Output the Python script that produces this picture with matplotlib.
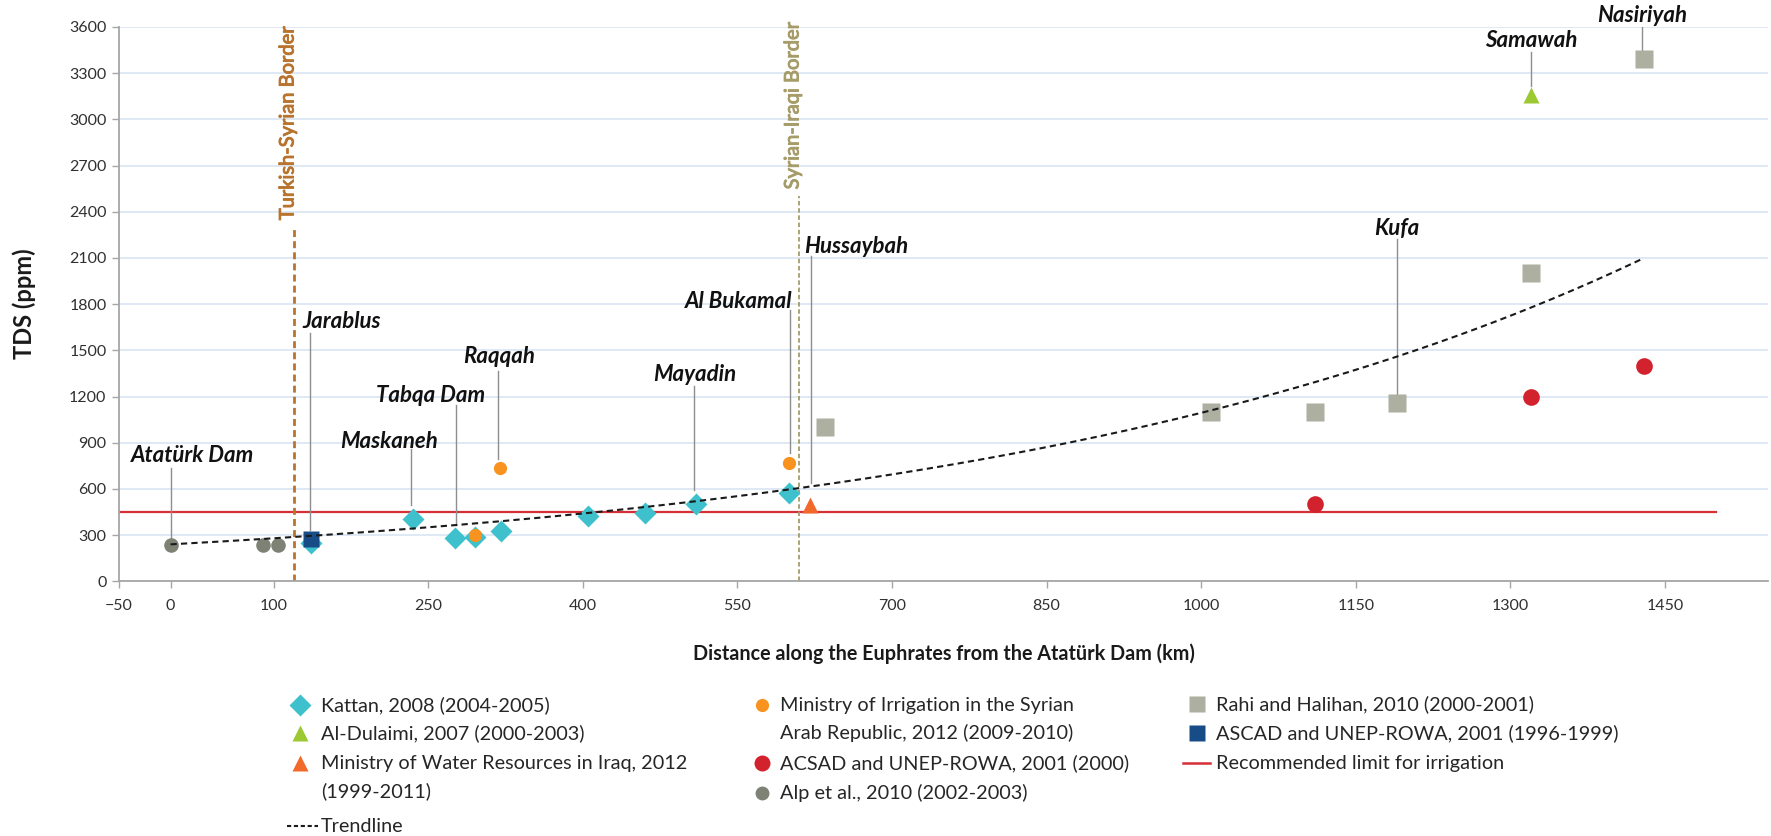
import numpy as np
import matplotlib
matplotlib.use("Agg")
import matplotlib.pyplot as plt
from matplotlib.lines import Line2D
import matplotlib.patheffects as pe

plt.rcParams['font.family'] = ['Lato', 'DejaVu Sans']

# ---------------- data ----------------
kattan_x = [136, 235, 276, 295, 321, 405, 460, 510, 600]
kattan_y = [250, 405, 280, 285, 325, 425, 445, 505, 575]

dulaimi_x = [1320]
dulaimi_y = [3160]

mwr_iraq_x = [620]
mwr_iraq_y = [495]

mir_syria_x = [295, 320, 600]
mir_syria_y = [300, 735, 770]

acsad_x = [1110, 1320, 1430]
acsad_y = [500, 1200, 1400]

alp_x = [0, 90, 104]
alp_y = [233, 233, 233]

rahi_x = [635, 1010, 1110, 1190, 1320, 1430]
rahi_y = [1000, 1100, 1100, 1155, 2005, 3395]

ascad_x = [136]
ascad_y = [275]

limit_value = 450
limit_x = [-50, 1500]

# exponential trendline: y = A * exp(B * x)
trend_A = 240.0
trend_B = 0.001517
trend_range = [0, 1428]

borders = [("Turkish-Syrian Border", 120, 2300), ("Syrian-Iraqi Border", 610, 2500)]

# place labels: (name, label_x, label_y, leader_x, leader_top, leader_bottom)
places = [
    ("Atatürk Dam", 21, 820, 0, 738, 279),
    ("Jarablus", 166, 1687, 135.5, 1612, 333),
    ("Maskaneh", 212, 908, 233, 858, 497),
    ("Tabqa Dam", 252, 1204, 277, 1145, 367),
    ("Raqqah", 319, 1459, 318, 1366, 793),
    ("Mayadin", 509, 1340, 508, 1268, 594),
    ("Al Bukamal", 551, 1815, 601, 1765, 832),
    ("Hussaybah", 665, 2173, 621, 2111, 638),
    ("Kufa", 1190, 2289, 1190, 2220, 1202),
    ("Samawah", 1320, 3511, 1320, 3437, 3220),
    ("Nasiriyah", 1428, 3672, 1428, 3618, 3449),
]

x_ticks = [-50, 0, 100, 250, 400, 550, 700, 850, 1000, 1150, 1300, 1450]
y_ticks = list(range(0, 3601, 300))

# ---------------- style ----------------
C_KATTAN = "#3FC1CD"
C_DULAIMI = "#9CC931"
C_MWR = "#F26A2B"
C_MIR = "#F7931E"
C_ACSAD = "#D2222D"
C_ALP = "#7E8275"
C_RAHI = "#ADB0A1"
C_ASCAD = "#184C87"
C_LIMIT = "#D62F37"
C_TS = "#B8742E"
C_SI = "#A59C69"
C_LEAD = "#8E8E8E"
C_GRID = "#D6E2F3"

W, H = 1771, 836
fig = plt.figure(figsize=(W / 100, H / 100), dpi=100)
ax = fig.add_axes([119 / W, 1 - 581.3 / H, (1768 - 119) / W, (581.3 - 27) / H])

ax.set_xlim(-50, 1550)
ax.set_ylim(0, 3600)
ax.set_xticks(x_ticks)
ax.set_yticks(y_ticks)
ax.tick_params(axis='both', direction='out', length=5, width=1, color="#A6A6A6",
               labelsize=11.5, labelcolor="#303030", pad=4)
ax.tick_params(axis='x', pad=8)
for s in ["top", "right"]:
    ax.spines[s].set_visible(False)
for s in ["left", "bottom"]:
    ax.spines[s].set_color("#A6A6A6")
    ax.spines[s].set_linewidth(1.3)
ax.yaxis.grid(True, color=C_GRID, lw=1.1, zorder=0)
ax.set_axisbelow(True)

ax.set_ylabel("TDS (ppm)", fontsize=17, fontweight='bold', color="#1A1A1A", labelpad=24)
ax.set_xlabel("Distance along the Euphrates from the Atatürk Dam (km)", fontsize=14.2,
              fontweight='bold', color="#1A1A1A", labelpad=22)

# limit line
ax.plot(limit_x, [limit_value, limit_value], color=C_LIMIT, lw=1.6, zorder=2)

# borders
for i, (name, bx, btop) in enumerate(borders):
    col = C_TS if i == 0 else C_SI
    lw = 2.0 if i == 0 else 1.3
    ax.plot([bx, bx], [0, btop], color=col, lw=lw, ls=(0, (2.5, 1.5)), zorder=2)
    ax.text(bx - 6, btop + 45, name, rotation=90, ha='center', va='bottom',
            color=col, fontsize=14.5, clip_on=False,
            path_effects=[pe.withStroke(linewidth=0.7, foreground=col)])

# leader lines and labels
for name, lx, ly, px, ptop, pbot in places:
    ax.plot([px, px], [pbot, ptop], color=C_LEAD, lw=1.0, zorder=2)
    ax.text(lx, ly, name, ha='center', va='center', fontsize=16, fontweight='bold',
            fontstyle='italic', color="#111111", clip_on=False)

# markers
ax.plot(kattan_x, kattan_y, ls='none', marker='D', ms=11.5, color=C_KATTAN, mec='none', zorder=3)
ax.plot(mir_syria_x, mir_syria_y, ls='none', marker='o', ms=9.5, color=C_MIR, mec='none', zorder=4)
ax.plot(dulaimi_x, dulaimi_y, ls='none', marker='^', ms=12, color=C_DULAIMI, mec='none', zorder=4)
ax.plot(mwr_iraq_x, mwr_iraq_y, ls='none', marker='^', ms=12, color=C_MWR, mec='none', zorder=4)
ax.plot(acsad_x, acsad_y, ls='none', marker='o', ms=12, color=C_ACSAD, mec='none', zorder=4)
ax.plot(alp_x, alp_y, ls='none', marker='o', ms=10.5, color=C_ALP, mec='none', zorder=4)
ax.plot(rahi_x, rahi_y, ls='none', marker='s', ms=12.5, color=C_RAHI, mec='none', zorder=4)
ax.plot(ascad_x, ascad_y, ls='none', marker='s', ms=11, color=C_ASCAD, mec='none', zorder=4)

# trendline
tx = np.linspace(trend_range[0], trend_range[1], 300)
ax.plot(tx, trend_A * np.exp(trend_B * tx), color="#1A1A1A", lw=1.5, ls=(0, (3, 2)), zorder=5)

# ---------------- manual legend ----------------
def fx(px):
    return px / W

def fy(py):
    return 1 - py / H

LEG_FS = 14.3
LEG_COL = "#262626"

def leg_marker(px, py, marker, color, ms):
    fig.add_artist(Line2D([fx(px)], [fy(py)], marker=marker, ms=ms, color=color,
                          mec='none', ls='none', transform=fig.transFigure))

def leg_line(x0, x1, py, color, lw, ls):
    fig.add_artist(Line2D([fx(x0), fx(x1)], [fy(py), fy(py)], color=color, lw=lw, ls=ls,
                          transform=fig.transFigure))

def leg_text(px, py, s):
    fig.text(fx(px), fy(py), s, ha='left', va='center', fontsize=LEG_FS, color=LEG_COL)

# column 1
leg_marker(300, 705, 'D', C_KATTAN, 11.5)
leg_text(321, 705, "Kattan, 2008 (2004-2005)")
leg_marker(300, 733, '^', C_DULAIMI, 12)
leg_text(321, 733, "Al-Dulaimi, 2007 (2000-2003)")
leg_marker(300, 763, '^', C_MWR, 12)
leg_text(321, 763, "Ministry of Water Resources in Iraq, 2012")
leg_text(321, 791, "(1999-2011)")
leg_line(287, 318, 826, "#1A1A1A", 1.5, (0, (2, 1.3)))
leg_text(321, 826, "Trendline")

# column 2
leg_marker(762, 705, 'o', C_MIR, 9.5)
leg_text(780, 705, "Ministry of Irrigation in the Syrian")
leg_text(780, 733, "Arab Republic, 2012 (2009-2010)")
leg_marker(762, 763, 'o', C_ACSAD, 11.5)
leg_text(780, 763, "ACSAD and UNEP-ROWA, 2001 (2000)")
leg_marker(762, 793, 'o', C_ALP, 10)
leg_text(780, 793, "Alp et al., 2010 (2002-2003)")

# column 3
leg_marker(1197, 704, 's', C_RAHI, 12)
leg_text(1216, 704, "Rahi and Halihan, 2010 (2000-2001)")
leg_marker(1197, 733, 's', C_ASCAD, 11)
leg_text(1216, 733, "ASCAD and UNEP-ROWA, 2001 (1996-1999)")
leg_line(1183, 1210, 763, C_LIMIT, 1.8, '-')
leg_text(1216, 763, "Recommended limit for irrigation")

fig.savefig("out.png", dpi=100)
